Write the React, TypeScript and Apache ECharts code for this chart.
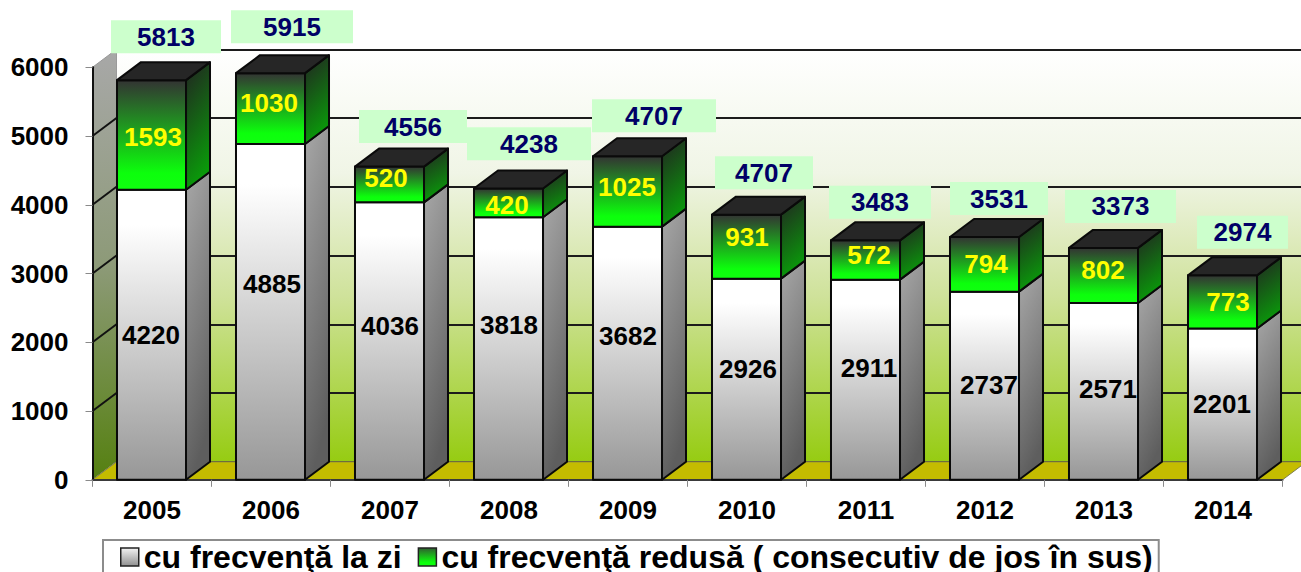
import React, { useEffect, useRef } from "react";
import * as echarts from "echarts";

const categories = ["2005", "2006", "2007", "2008", "2009", "2010", "2011", "2012", "2013", "2014"];
const dayValues = [4220, 4885, 4036, 3818, 3682, 2926, 2911, 2737, 2571, 2201];
const reducedValues = [1593, 1030, 520, 420, 1025, 931, 572, 794, 802, 773];
const totalLabels = [5813, 5915, 4556, 4238, 4707, 4707, 3483, 3531, 3373, 2974];
const yTicks = [0, 1000, 2000, 3000, 4000, 5000, 6000];

const dayName = "cu frecvenţă la zi";
const reducedName = "cu frecvenţă redusă ( consecutiv de jos în sus)";

// layout nudges (px) of the hand-placed labels of the original
const dayLabelNudge = [[-1, 0], [1, -28], [0, -15], [0, -24], [0, -17], [1, -10], [3, -12], [4, -1], [4, -2.5], [-1, 0]];
const reducedLabelNudge = [[1, 2], [-2, -6], [-4, -6], [-2, 2], [-1, -4], [0, -10], [3, -5], [1, 0], [-1, -5], [5, 0]];
const totalBoxNudge = [[14, -43.5], [21, -46.5], [23, -40], [20, -44.7], [26, -40.5], [17, -42], [14, -38], [14, -38.5], [16.5, -41.5], [19.5, -43]];
const totalBoxWidth = [110, 122, 108, 124, 124, 98, 102, 98, 111, 91];

const DX = 24;
const DY = 18;
const BOX_H = 33;
const FONT = '"Liberation Sans", Arial, sans-serif';
const LABEL_FONT = `bold 26px ${FONT}`;

const grad = (stops: [number, string][], x2 = 0) =>
  new echarts.graphic.LinearGradient(0, 0, x2, 1, stops.map(([offset, color]) => ({ offset, color })));

function segment(api: any, base: number, value: number, front: any, side: any, top: boolean, label: string, fill: string, nudge: number[]) {
  const i = api.value(0);
  const w = api.size([1, 0])[0] * 0.58;
  const [cx, y0] = api.coord([i, base]);
  const [, y1] = api.coord([i, base + value]);
  const x0 = cx - w / 2 - 0.5;
  const x1 = x0 + w;
  const stroke = { stroke: "#0a0a0a", lineWidth: 2, lineJoin: "round" };
  const children: any[] = [
    { type: "polygon", shape: { points: [[x1, y0], [x1 + DX, y0 - DY], [x1 + DX, y1 - DY], [x1, y1]] }, style: { fill: side, ...stroke } },
    { type: "rect", shape: { x: x0, y: y1, width: w, height: y0 - y1 }, style: { fill: front, ...stroke } },
  ];
  if (top) {
    children.push({
      type: "polygon",
      shape: { points: [[x0, y1], [x0 + DX, y1 - DY], [x1 + DX, y1 - DY], [x1, y1]] },
      style: { fill: "#262626", ...stroke },
    });
  }
  children.push({
    type: "text",
    style: { text: label, x: cx + nudge[0], y: (y0 + y1) / 2 + nudge[1], fill, font: LABEL_FONT, align: "center", verticalAlign: "middle" },
    z2: 10,
  });
  return { type: "group", children };
}

export default function App() {
  const ref = useRef<HTMLDivElement>(null);
  useEffect(() => {
    const chart = echarts.init(ref.current!, undefined, { renderer: "svg" });
    const grayFront = grad([[0, "#ffffff"], [0.12, "#ffffff"], [1, "#979797"]]);
    const graySide = grad([[0, "#a8a8a8"], [1, "#5e5e5e"]], 0.25);
    const greenFront = grad([[0, "#333333"], [0.85, "#0cff0c"], [1, "#10ff10"]]);
    const greenSide = grad([[0, "#222222"], [1, "#0a9a0a"]], 0.25);
    const option: any = {
      animation: false,
      backgroundColor: "#ffffff",
      grid: [
        { left: 92.5, top: 67.3, width: 1190, height: 412.5, show: false, z: 2 },
        {
          left: 92.5 + DX, top: 67.3 - DY, width: 1190, height: 412.5, show: true, borderWidth: 0, z: 0,
          backgroundColor: grad([[0, "#ffffff"], [0.3, "#f0f5e6"], [0.6, "#cfe29a"], [1, "#96cc12"]]),
        },
      ],
      xAxis: [
        {
          type: "category", gridIndex: 0, data: categories,
          axisLine: { lineStyle: { color: "#3a3a3a", width: 2 } },
          axisTick: { show: true, alignWithLabel: false, length: 7, lineStyle: { color: "#8a8a8a", width: 1 } },
          axisLabel: { color: "#000", fontFamily: FONT, fontWeight: "bold", fontSize: 26, margin: 17 },
          z: 3,
        },
        { type: "category", gridIndex: 1, data: categories, show: false },
      ],
      yAxis: [
        {
          type: "value", gridIndex: 0, min: 0, max: 6000, interval: 1000,
          splitLine: { show: false },
          axisLine: { show: true, lineStyle: { color: "#111", width: 2 } },
          axisTick: { show: true, length: 7, lineStyle: { color: "#8a8a8a", width: 1 } },
          axisLabel: { color: "#000", fontFamily: FONT, fontWeight: "bold", fontSize: 26, margin: 24, formatter: (v: number) => String(v) },
          z: 3,
        },
        {
          type: "value", gridIndex: 1, min: 0, max: 6000, interval: 1000,
          axisLine: { show: false }, axisTick: { show: false }, axisLabel: { show: false },
          splitLine: { show: true, lineStyle: { color: "#1c1c1c", width: 2 } },
        },
      ],
      legend: {
        data: [{ name: dayName }, { name: reducedName }],
        left: 103, top: 540,
        padding: [1, 6, 12, 17],
        backgroundColor: "#fff",
        borderColor: "#8c8c8c",
        borderWidth: 2,
        icon: "rect",
        itemWidth: 18, itemHeight: 18, itemGap: 16,
        itemStyle: { borderColor: "#222", borderWidth: 1.5 },
        textStyle: { fontFamily: FONT, fontWeight: "bold", fontSize: 32, color: "#000" },
        selectedMode: false,
      },
      series: [
        {
          type: "custom", name: "walls", xAxisIndex: 0, yAxisIndex: 0, z: 1, silent: true,
          data: [[0]],
          renderItem: (_p: any, api: any) => {
            const band = api.size([1, 0])[0];
            const left = api.coord([0, 0])[0] - band / 2;
            const right = left + band * categories.length;
            const y0 = api.coord([0, 0])[1];
            const yT = api.coord([0, yTicks[yTicks.length - 1]])[1];
            const children: any[] = [
              {
                type: "polygon",
                shape: { points: [[left, y0], [left + DX, y0 - DY], [left + DX, yT - DY], [left, yT]] },
                style: { fill: grad([[0, "#a8a8a8"], [0.5, "#8d9a78"], [1, "#558010"]]), stroke: "#9a9a9a", lineWidth: 1 },
              },
              {
                type: "polygon",
                shape: { points: [[left, y0], [left + DX, y0 - DY], [right + DX, y0 - DY], [right, y0]] },
                style: { fill: "#c4bc00", stroke: "#7f7f50", lineWidth: 1 },
              },
            ];
            yTicks.slice(1, -1).forEach((t) => {
              const y = api.coord([0, t])[1];
              children.push({ type: "line", shape: { x1: left, y1: y, x2: left + DX, y2: y - DY }, style: { stroke: "#111", lineWidth: 2 } });
            });
            return { type: "group", children };
          },
          encode: { x: 0 },
        },
        {
          type: "custom", name: dayName, xAxisIndex: 0, yAxisIndex: 0, z: 4,
          itemStyle: { color: grad([[0, "#f2f2f2"], [1, "#8f8f8f"]]) },
          data: dayValues.map((v, i) => [i, v]),
          encode: { x: 0, y: 1 },
          renderItem: (_p: any, api: any) =>
            segment(api, 0, api.value(1), grayFront, graySide, false, String(api.value(1)), "#000", dayLabelNudge[api.value(0)]),
        },
        {
          type: "custom", name: reducedName, xAxisIndex: 0, yAxisIndex: 0, z: 4,
          itemStyle: { color: grad([[0, "#2f5f2f"], [0.8, "#0cff0c"], [1, "#10ff10"]]) },
          data: reducedValues.map((v, i) => [i, v, dayValues[i]]),
          encode: { x: 0, y: 1 },
          renderItem: (_p: any, api: any) =>
            segment(api, api.value(2), api.value(1), greenFront, greenSide, true, String(api.value(1)), "#ffff00", reducedLabelNudge[api.value(0)]),
        },
        {
          type: "custom", name: "totals", xAxisIndex: 0, yAxisIndex: 0, z: 5,
          data: totalLabels.map((v, i) => [i, dayValues[i] + reducedValues[i], v]),
          encode: { x: 0, y: 1 },
          renderItem: (_p: any, api: any) => {
            const i = api.value(0);
            const [cx, yTop] = api.coord([i, api.value(1)]);
            const bx = cx + totalBoxNudge[i][0];
            const by = yTop + totalBoxNudge[i][1];
            const w = totalBoxWidth[i];
            return {
              type: "group",
              children: [
                { type: "rect", shape: { x: bx - w / 2, y: by - BOX_H / 2, width: w, height: BOX_H }, style: { fill: "#ccffcc" } },
                { type: "text", style: { text: String(api.value(2)), x: bx, y: by, fill: "#000066", font: LABEL_FONT, align: "center", verticalAlign: "middle" }, z2: 10 },
              ],
            };
          },
        },
      ],
    };
    chart.setOption(option);
    return () => chart.dispose();
  }, []);
  return <div ref={ref} style={{ position: "fixed", left: 0, top: 0, width: 1301, height: 572 }} />;
}
